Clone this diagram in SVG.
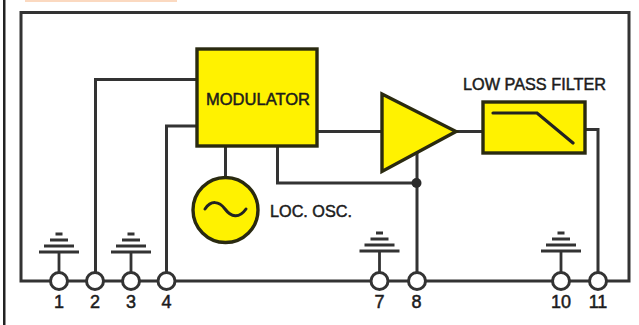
<svg xmlns="http://www.w3.org/2000/svg" width="639" height="325" viewBox="0 0 639 325">
<style>
.w{fill:none;stroke:#333;stroke-width:3}
.b{fill:#fff200;stroke:#2a2a10;stroke-width:3.4}
.g{fill:none;stroke:#333;stroke-width:2.8}
.p{fill:#fff;stroke:#333;stroke-width:3}
text{font-family:"Liberation Sans",Arial,sans-serif;fill:#1c1c1c;stroke:#1c1c1c;stroke-width:.5}
.n{font-size:18px;text-anchor:middle}
</style>
<rect width="639" height="325" fill="#fff"/>
<rect x="25" y="0" width="152" height="2" fill="#fbd9c0"/>
<rect x="3" y="0" width="2.500" height="325" fill="#222"/>
<g id="connectors">
<path class="w" d="M59 281H21V12.500H629V281H598M59 281H598"/>
<path class="w" d="M95.500 281V79.500H197M166.500 281V126H197M225.500 146V177M277.500 146V183H417M417 150V281M317 131.500H382M456 131.500H483M585 129.500H598V281"/>
<circle cx="416.500" cy="183" r="5" fill="#2a2a2a"/>
</g>
<g id="modulator"><rect class="b" x="197" y="49" width="120" height="97"/><text x="258" y="105" font-size="17" text-anchor="middle" textLength="104" lengthAdjust="spacingAndGlyphs">MODULATOR</text></g>
<g id="oscillator"><circle class="b" cx="225.500" cy="210" r="32.500" stroke-width="3"/><path d="M205 209C211 200 219 201 225 209S239 219 246 209" fill="none" stroke="#222" stroke-width="3" stroke-linecap="round"/><text x="270" y="217" font-size="16.500" textLength="82" lengthAdjust="spacingAndGlyphs">LOC. OSC.</text></g>
<g id="amplifier"><path class="b" stroke-linejoin="miter" d="M382 94V171.500L456 131.500Z"/></g>
<g id="filter"><rect class="b" x="483" y="102" width="102" height="51"/><path d="M493 113H537L573 143" fill="none" stroke="#222" stroke-width="3.200" stroke-linecap="round"/><text x="463" y="90" font-size="16.500" textLength="143" lengthAdjust="spacingAndGlyphs">LOW PASS FILTER</text></g>
<g id="pin1"><path class="g" d="M59 273V252M39 252H79M44 246H74M50 240H68M55.500 234H62.500"/><circle class="p" cx="59" cy="281" r="8.500"/><text class="n" x="59" y="308">1</text></g>
<g id="pin2"><circle class="p" cx="95" cy="281" r="8.500"/><text class="n" x="95" y="308">2</text></g>
<g id="pin3"><path class="g" d="M131 273V252M111 252H151M116 246H146M122 240H140M127.500 234H134.500"/><circle class="p" cx="131" cy="281" r="8.500"/><text class="n" x="131" y="308">3</text></g>
<g id="pin4"><circle class="p" cx="166.500" cy="281" r="8.500"/><text class="n" x="166.500" y="308">4</text></g>
<g id="pin7"><path class="g" d="M379.500 273V251M359.500 251H399.500M364.500 245H394.500M370.500 239H388.500M376 233H383"/><circle class="p" cx="379.500" cy="281" r="8.500"/><text class="n" x="379.500" y="308">7</text></g>
<g id="pin8"><circle class="p" cx="417" cy="281" r="8.500"/><text class="n" x="416.500" y="308">8</text></g>
<g id="pin10"><path class="g" d="M561 273V251M541 251H581M546 245H576M552 239H570M557.500 233H564.500"/><circle class="p" cx="561" cy="281" r="8.500"/><text class="n" x="561" y="308">10</text></g>
<g id="pin11"><circle class="p" cx="598" cy="281" r="8.500"/><text class="n" x="598" y="308">11</text></g>
</svg>
